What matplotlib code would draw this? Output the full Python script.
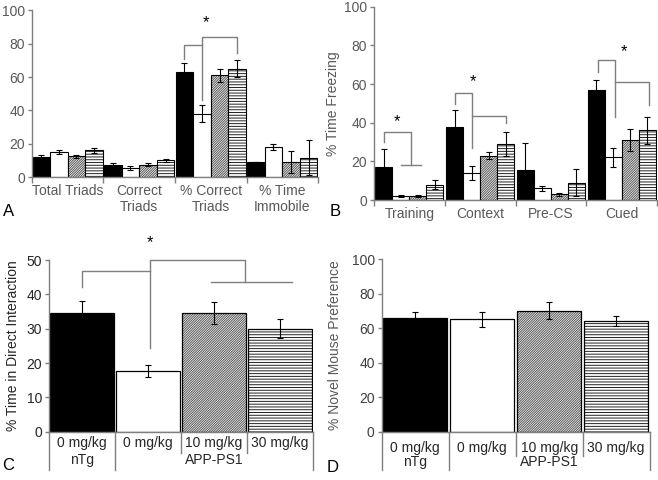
import matplotlib
matplotlib.use("Agg")
import matplotlib.pyplot as plt
import matplotlib.transforms as mtransforms
import numpy as np

plt.rcParams['font.family'] = ['Liberation Sans', 'DejaVu Sans']
plt.rcParams['hatch.linewidth'] = 0.7

# ---- data ----
a_cats = ["Total Triads", "Correct\nTriads", "% Correct\nTriads", "% Time\nImmobile"]
a_vals = [[12, 7.5, 63, 9],
          [15, 5.5, 38, 18],
          [12.5, 7.5, 61, 9],
          [16, 10, 65, 11.5]]
a_errs = [[1, 0.7, 5.5, 0],
          [1, 1, 5, 2],
          [1, 0.8, 4, 6.5],
          [1.5, 0.8, 5, 10.5]]

b_cats = ["Training", "Context", "Pre-CS", "Cued"]
b_vals = [[17, 38, 15.5, 57],
          [2, 14, 6, 22],
          [2, 23, 3, 31],
          [8, 29, 9, 36]]
b_errs = [[9.5, 8.5, 14, 5],
          [0.5, 3.7, 1.3, 5],
          [0.5, 2, 0.8, 5.5],
          [2.5, 6, 7, 7]]

dose_labels = ["0 mg/kg", "0 mg/kg", "10 mg/kg", "30 mg/kg"]
geno_labels = ["nTg", "APP-PS1"]
c_vals = [34.5, 17.7, 34.7, 30]
c_errs = [3.6, 1.8, 3.2, 2.8]
d_vals = [66, 65, 70, 64]
d_errs = [3.2, 4.3, 5, 2.8]

styles = [dict(color='black', hatch=None),
          dict(color='white', hatch=None),
          dict(color='white', hatch='//////////////', hc='#555555'),
          dict(color='white', hatch='------', hc='#222222')]

grey = '#7f7f7f'
txt_ab = '#595959'


def draw_bar(ax, x, v, e, width, st, lw=0.8):
    if st['hatch']:
        ax.bar(x, v, width, color='white', edgecolor=st['hc'], hatch=st['hatch'], linewidth=0)
        ax.bar(x, v, width, fill=False, edgecolor='black', linewidth=lw)
    else:
        ax.bar(x, v, width, color=st['color'], edgecolor='black', linewidth=lw)
    ax.errorbar(x, v, yerr=e, fmt='none', ecolor='black', elinewidth=0.8,
                capsize=2, capthick=0.8)


def style_axes(ax, color, txtcolor):
    for s in ['top', 'right']:
        ax.spines[s].set_visible(False)
    for s in ['left', 'bottom']:
        ax.spines[s].set_color(color)
        ax.spines[s].set_linewidth(1)
    ax.tick_params(axis='y', colors=color, labelcolor=txtcolor, labelsize=10,
                   length=3, width=1, pad=2)


def bracket(ax, pts):
    xs, ys = zip(*pts)
    ax.plot(xs, ys, color=grey, lw=1, clip_on=False)


fig = plt.figure(figsize=(6.58, 4.8), dpi=100)

# ---- panel A ----
axA = fig.add_axes([0.0486, 0.631, 0.4347, 0.3473])
wA = 0.245
xA = np.arange(len(a_cats))
for i in range(4):
    off = (i - 1.5) * wA
    for j in range(len(a_cats)):
        draw_bar(axA, xA[j] + off, a_vals[i][j], a_errs[i][j], wA, styles[i])
axA.set_xlim(-0.5, 3.5)
axA.set_ylim(0, 100)
axA.set_yticks(range(0, 101, 20))
axA.set_xticks(xA)
axA.set_xticklabels(a_cats, color=txt_ab, fontsize=10, linespacing=1.15)
axA.set_xticks(np.arange(-0.5, 4, 1), minor=True)
axA.tick_params(axis='x', which='major', length=0, pad=5)
axA.tick_params(axis='x', which='minor', length=4, color=grey, width=1)
style_axes(axA, grey, txt_ab)
cA = [2 + (i - 1.5) * wA for i in range(4)]
bracket(axA, [(cA[0], 70.6), (cA[0], 79.2), (cA[1], 79.2)])
bracket(axA, [(cA[1], 46), (cA[1], 84), (cA[3], 84), (cA[3], 74.6)])
axA.text(cA[1] + 0.06, 92.8, "*", ha='center', va='center', fontsize=12)

# ---- panel B ----
axB = fig.add_axes([0.5684, 0.5833, 0.4301, 0.4027])
wB = 0.24
xB = np.arange(len(b_cats))
for i in range(4):
    off = (i - 1.5) * wB
    for j in range(len(b_cats)):
        draw_bar(axB, xB[j] + off, b_vals[i][j], b_errs[i][j], wB, styles[i])
axB.set_xlim(-0.5, 3.5)
axB.set_ylim(0, 100)
axB.set_yticks(range(0, 101, 20))
axB.set_xticks(xB)
axB.set_xticklabels(b_cats, color=txt_ab, fontsize=10)
axB.set_xticks(np.arange(-0.5, 4, 1), minor=True)
axB.tick_params(axis='x', which='major', length=0, pad=5)
axB.tick_params(axis='x', which='minor', length=4, color=grey, width=1)
style_axes(axB, grey, txt_ab)
axB.set_ylabel("% Time Freezing", color=txt_ab, fontsize=10, labelpad=3)
c0 = [0 + (i - 1.5) * wB for i in range(4)]
bracket(axB, [(c0[0], 30.2), (c0[0], 35.2), (0.02, 35.2), (0.02, 18.1)])
bracket(axB, [(c0[1], 18.1), (0.17, 18.1)])
axB.text(-0.18, 40.5, "*", ha='center', va='center', fontsize=12)
c1 = [1 + (i - 1.5) * wB for i in range(4)]
bracket(axB, [(c1[0], 49.7), (c1[0], 55.2), (c1[1], 55.2), (c1[1], 26.7)])
bracket(axB, [(c1[1], 43.4), (c1[3], 43.4), (c1[3], 39.7)])
axB.text(c1[1] + 0.02, 61.2, "*", ha='center', va='center', fontsize=12)
c3 = [3 + (i - 1.5) * wB for i in range(4)]
bracket(axB, [(c3[0] + 0.03, 66.4), (c3[0] + 0.03, 72.4), (c3[1] + 0.03, 72.4), (c3[1] + 0.03, 42.8)])
bracket(axB, [(c3[1] + 0.03, 60.9), (c3[3] + 0.03, 60.9), (c3[3] + 0.03, 49.1)])
axB.text(3.04, 76.7, "*", ha='center', va='center', fontsize=12)


def multi_axis(ax, row1_y, row2_y, inner_y, outer_y, txtcolor):
    trans = mtransforms.blended_transform_factory(ax.transData, ax.transAxes)
    for k, lab in enumerate(dose_labels):
        ax.text(k, row1_y, lab, transform=trans, ha='center', va='center',
                fontsize=10, color=txtcolor)
    ax.text(0, row2_y, geno_labels[0], transform=trans, ha='center', va='center',
            fontsize=10, color=txtcolor)
    ax.text(2, row2_y, geno_labels[1], transform=trans, ha='center', va='center',
            fontsize=10, color=txtcolor)
    for xb in [-0.5, 0.5, 3.5]:
        ax.plot([xb, xb], [0, outer_y], transform=trans, color=grey, lw=1, clip_on=False)
    for xb in [1.5, 2.5]:
        ax.plot([xb, xb], [0, inner_y], transform=trans, color=grey, lw=1, clip_on=False)


# ---- panel C ----
axC = fig.add_axes([0.0745, 0.1006, 0.401, 0.3577])
wC = 0.965
xC = np.arange(4)
for i in range(4):
    draw_bar(axC, xC[i], c_vals[i], c_errs[i], wC, styles[i], lw=0.9)
axC.set_xlim(-0.5, 3.5)
axC.set_ylim(0, 50)
axC.set_yticks(range(0, 51, 10))
axC.set_xticks([])
style_axes(axC, grey, '#262626')
axC.set_ylabel("% Time in Direct Interaction", color='#262626', fontsize=10, labelpad=5)
multi_axis(axC, -0.066, -0.165, -0.126, -0.223, '#262626')
bracket(axC, [(0, 42.2), (0, 46.8), (1.03, 46.8)])
bracket(axC, [(1.03, 24.3), (1.03, 50), (2.47, 50), (2.47, 43.7)])
bracket(axC, [(1.96, 43.7), (3.19, 43.7)])
axC.text(1.03, 55, "*", ha='center', va='center', fontsize=12)

# ---- panel D ----
axD = fig.add_axes([0.580, 0.1006, 0.4073, 0.3598])
wD = 0.96
for i in range(4):
    draw_bar(axD, xC[i], d_vals[i], d_errs[i], wD, styles[i], lw=0.9)
axD.set_xlim(-0.5, 3.5)
axD.set_ylim(0, 100)
axD.set_yticks(range(0, 101, 20))
axD.set_xticks([])
style_axes(axD, grey, '#404040')
axD.set_ylabel("% Novel Mouse Preference", color=txt_ab, fontsize=10, labelpad=7)
multi_axis(axD, -0.094, -0.175, -0.141, -0.222, '#262626')

# ---- panel letters ----
for lab, x, y in [("A", 9, 211), ("B", 335, 211), ("C", 8, 465), ("D", 333, 467)]:
    fig.text(x / 658, 1 - y / 480, lab, ha='center', va='center', fontsize=12)

fig.savefig("out.png", dpi=100)
